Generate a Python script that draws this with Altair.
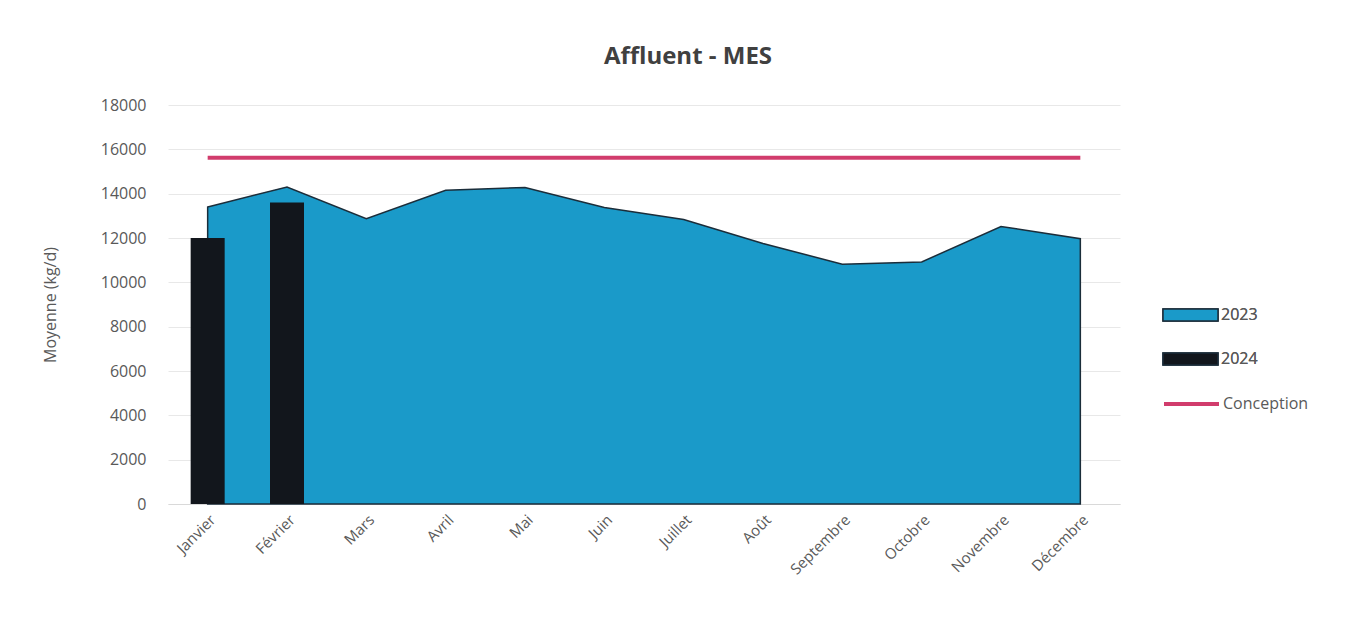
import altair as alt
import pandas as pd

months = ["Janvier", "Février", "Mars", "Avril", "Mai", "Juin", "Juillet",
          "Août", "Septembre", "Octobre", "Novembre", "Décembre"]
values_2023 = [13400, 14300, 12870, 14150, 14280, 13380, 12830, 11750,
               10820, 10920, 12520, 11970]
months_2024 = ["Janvier", "Février"]
values_2024 = [12000, 13600]
conception = [15620] * 12
fill_series = ["2023", "2024"]
fill_colors = ["#1a9ac9", "#12161c"]
line_series = ["Conception"]
line_colors = ["#d13c6c"]

df_area = pd.DataFrame({"Mois": months, "Valeur": values_2023, "Série": "2023"})
df_bar = pd.DataFrame({"Mois": months_2024, "Valeur": values_2024, "Série": "2024"})
df_line = pd.DataFrame({"Mois": months, "Valeur": conception, "Référence": "Conception"})

FONT = "Open Sans"
GREY = "#595959"

x_enc = alt.X(
    "Mois:N", sort=months, title=None,
    scale=alt.Scale(type="point", padding=0.5, domain=months),
    axis=alt.Axis(labelAngle=-45, labelFontSize=15, labelColor=GREY, ticks=False,
                  domainColor="#d9d9d9", labelPadding=8, grid=False),
)
y_enc = alt.Y(
    "Valeur:Q", title="Moyenne (kg/d)",
    scale=alt.Scale(domain=[0, 18000], nice=False),
    axis=alt.Axis(values=list(range(0, 18001, 2000)), format="d", labelFontSize=16,
                  labelColor=GREY, ticks=False, domain=False, gridColor="#e8e8e8",
                  labelPadding=22, titleFontSize=16, titleColor=GREY,
                  titleFontWeight="normal", titlePadding=42),
)

fill_legend = alt.Legend(
    title=None, orient="none", legendX=994, legendY=200,
    symbolType="M-1,-0.22H1V0.22H-1Z", symbolSize=3025, symbolStrokeColor="#1b2d3a",
    symbolStrokeWidth=1.5, symbolOpacity=1, clipHeight=20, rowPadding=24,
    labelFontSize=16, labelColor=GREY, labelOffset=2, labelFont=FONT,
)
stroke_legend = alt.Legend(
    title=None, orient="none", legendX=994, legendY=289,
    symbolType="M-1,0H1", symbolSize=3025, symbolStrokeWidth=4, symbolOpacity=1,
    clipHeight=20, labelFontSize=16, labelColor=GREY, labelOffset=2, labelFont=FONT,
)
fill_enc = alt.Fill("Série:N", scale=alt.Scale(domain=fill_series, range=fill_colors),
                    legend=fill_legend)
stroke_enc = alt.Stroke("Référence:N", scale=alt.Scale(domain=line_series, range=line_colors),
                        legend=stroke_legend)

area = alt.Chart(df_area).mark_area(stroke="#1b2d3a", strokeWidth=1.5, opacity=1).encode(
    x=x_enc, y=y_enc, fill=fill_enc)
bars = alt.Chart(df_bar).mark_bar(size=34).encode(x=x_enc, y=y_enc, fill=fill_enc)
line = alt.Chart(df_line).mark_line(strokeWidth=4).encode(x=x_enc, y=y_enc, stroke=stroke_enc)

chart = alt.layer(area, bars, line).resolve_legend(fill="independent", stroke="independent").properties(
    width=952, height=399,
    title=alt.Title("Affluent - MES", fontSize=24, fontWeight="bold", color="#404040",
                    font=FONT, anchor="middle", dx=44, offset=28),
    autosize=alt.AutoSizeParams(type="none"),
    padding={"left": 160, "top": 97, "right": 227, "bottom": 112},
).configure(font=FONT).configure_view(stroke=None).configure_axis(labelFont=FONT, titleFont=FONT)

chart.save("out.html", embed_options={"renderer": "svg", "actions": False})
